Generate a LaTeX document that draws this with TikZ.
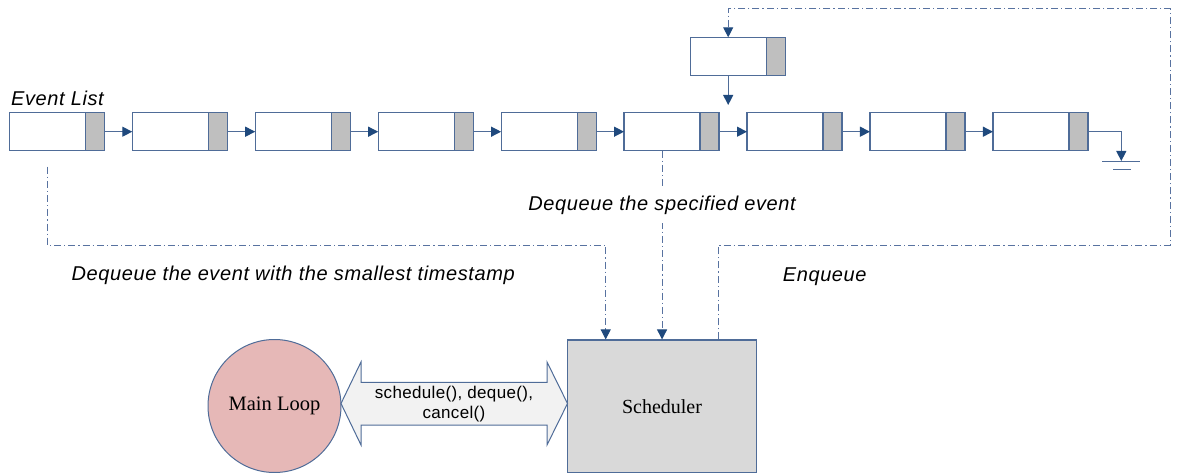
\documentclass[tikz,border=0pt]{standalone}
\usepackage{fontspec}
\setmainfont{Liberation Serif}
\newfontfamily\labelfont[LetterSpace=3]{Liberation Sans}
\newfontfamily\callfont[LetterSpace=2]{Liberation Sans}
\usetikzlibrary{arrows.meta}

\definecolor{edge}{RGB}{79,108,152}
\definecolor{navy}{RGB}{31,73,125}
\definecolor{tagfill}{RGB}{191,191,191}
\definecolor{schedfill}{RGB}{217,217,217}
\definecolor{loopfill}{RGB}{230,184,183}
\definecolor{callfill}{RGB}{242,242,242}
\definecolor{dd}{RGB}{88,114,160}

\begin{document}
\begin{tikzpicture}[x=1pt,y=-1pt,
  cell/.style={draw=edge,line width=1.2pt,fill=white,minimum width=76pt,minimum height=38pt,inner sep=0pt,outer sep=0pt},
  tag/.style={draw=edge,line width=1.2pt,fill=tagfill,minimum width=19pt,minimum height=38pt,inner sep=0pt,outer sep=0pt,anchor=west},
  link/.style={draw=edge,line width=1.2pt,-{Triangle[length=10pt,width=10pt,color=navy]}},
  flow/.style={draw=dd,line width=1pt,dash pattern=on 7pt off 3pt on 1.2pt off 3pt},
  flowtip/.style={flow,-{Triangle[length=10pt,width=10pt,color=navy]}},
  note/.style={font=\labelfont\itshape\fontsize{20}{24}\selectfont,inner sep=0pt}]

\useasboundingbox (0,0) rectangle (1182,473);

% event list cells
\foreach \i in {1,...,9}{
  \node[cell] (e\i) at ({9.3+122.95*(\i-1)+38},131.7) {};
  \node[tag] (g\i) at (e\i.east) {};
}
\foreach \i/\j in {1/2,2/3,3/4,4/5,5/6,6/7,7/8,8/9}
  \draw[link] (g\i.east) -- (e\j.west);

% new event being inserted
\node[cell] (n) at (728.2,56.3) {};
\node[tag] (ng) at (n.east) {};
\coordinate (ins) at (728.2,105);
\draw[link] (n.south) -- (ins);

% list terminator
\coordinate (gnd) at (1121.3,161);
\draw[link] (g9.east) -| (gnd);
\draw[draw=edge,line width=1.2pt] (1102,161.7) -- (1140,161.7) (1113,169.7) -- (1131,169.7);

\node[note,anchor=base west] (title) at (11,106) {Event List};

% scheduler and main loop
\node[draw=edge,line width=1.2pt,fill=schedfill,minimum width=189.4pt,minimum height=132.3pt,inner sep=0pt,
      font=\fontsize{20}{24}\selectfont] (sched) at (662,406.2) {Scheduler};
\node[circle,draw=edge,line width=1pt,fill=loopfill,minimum size=133pt,inner sep=0pt,
      font=\fontsize{20.5}{24}\selectfont] (loop) at (274.5,406) {Main Loop};

\draw[draw=edge,line width=1pt,fill=callfill]
  (341,403.5) -- (361,362) -- (361,382.3) -- (547,382.3) -- (547,362) -- (567.5,403.5)
  -- (547,445) -- (547,425) -- (361,425) -- (361,445) -- cycle;
\node[align=center,inner sep=0pt,font=\callfont\fontsize{17}{20}\selectfont] (calls) at (454,404.5)
  {schedule(), deque(),\\cancel()};

% dequeue / enqueue paths
\coordinate (mid) at (0,245);
\draw[flowtip] (e1.south) ++(0,16) -- (e1.south |- mid) -| ([xshift=-56.3pt]sched.north);
\node[note,anchor=base west] (lowest) at (71.5,280) {Dequeue the event with the smallest timestamp};

\draw[flowtip] (e6.south) -- (sched.north -| e6.south)
  node[pos=0.288,note,fill=white,inner ysep=9pt,inner xsep=2pt] (spec) {Dequeue the specified event};

\coordinate (rb) at (1170,245);
\coordinate (rt) at (1170,8.5);
\draw[flowtip] ([xshift=56.7pt]sched.north) |- (rb) -- (rt) -| (n.north);
\node[note,anchor=base west] (enq) at (782.7,281.7) {Enqueue};

\end{tikzpicture}
\end{document}
